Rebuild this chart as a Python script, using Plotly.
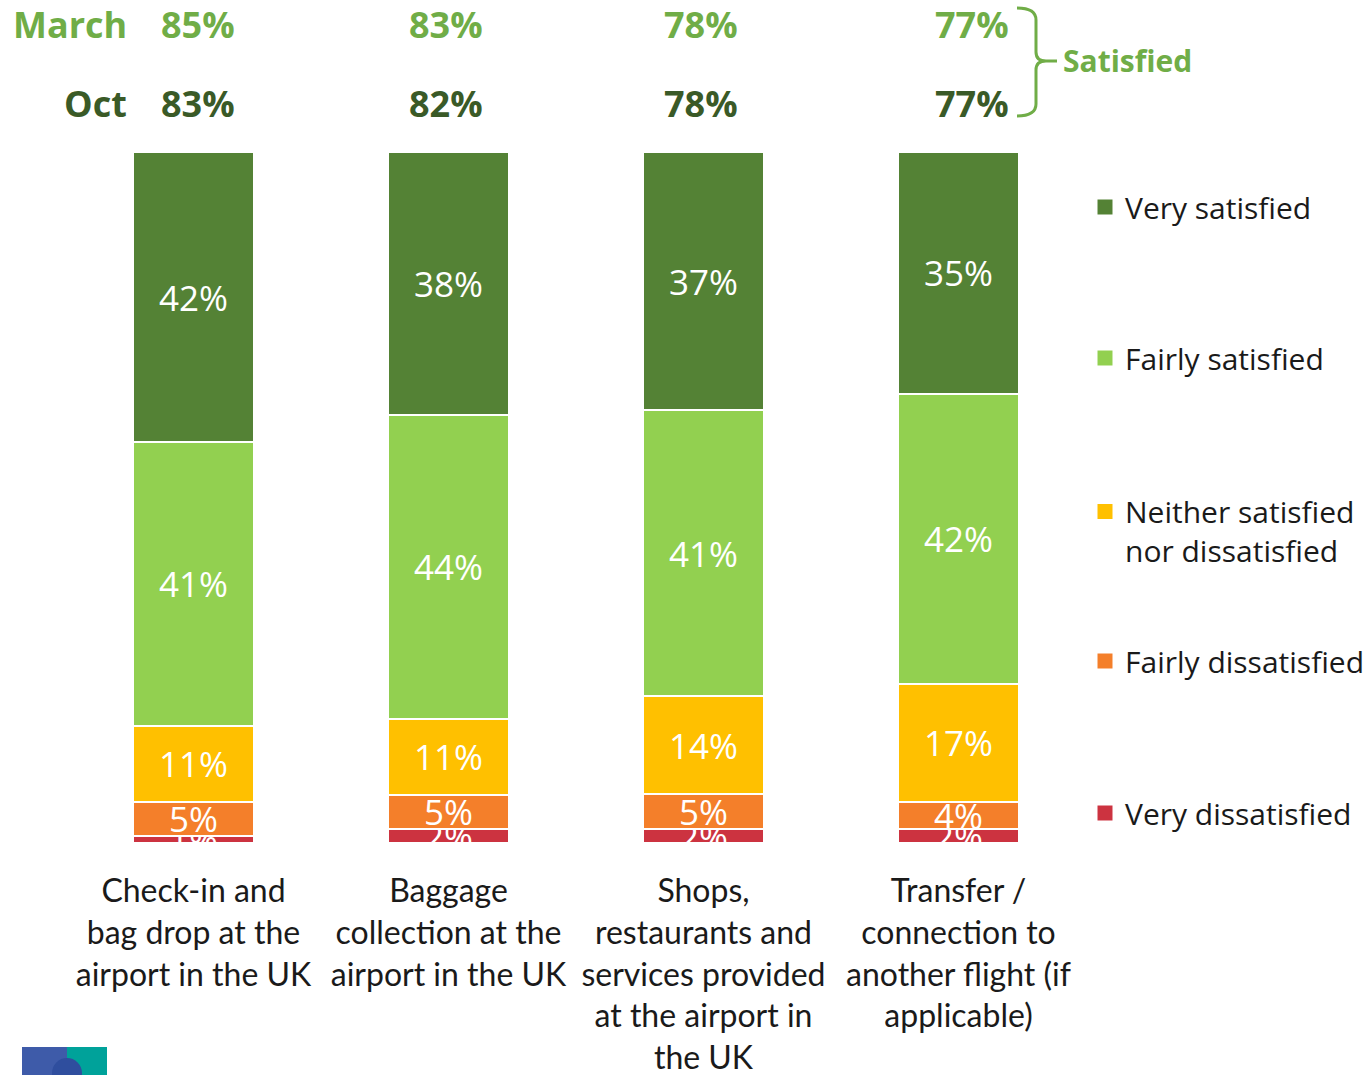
import plotly.graph_objects as go

# Survey data: satisfaction with airport services (Oct wave, %)
categories = [
    "Check-in and<br>bag drop at the<br>airport in the UK",
    "Baggage<br>collection at the<br>airport in the UK",
    "Shops,<br>restaurants and<br>services provided<br>at the airport in<br>the UK",
    "Transfer /<br>connection to<br>another flight (if<br>applicable)",
]
series_names = [
    "Very dissatisfied",
    "Fairly dissatisfied",
    "Neither satisfied<br>nor dissatisfied",
    "Fairly satisfied",
    "Very satisfied",
]
very_dissatisfied = [1, 2, 2, 2]
fairly_dissatisfied = [5, 5, 5, 4]
neither = [11, 11, 14, 17]
fairly_satisfied = [41, 44, 41, 42]
very_satisfied = [42, 38, 37, 35]

# Net satisfied totals for each wave
satisfied_march = [85, 83, 78, 77]
satisfied_oct = [83, 82, 78, 77]

colors = ["#CC3340", "#F47F2A", "#FFC000", "#92D050", "#548235"]
values = [very_dissatisfied, fairly_dissatisfied, neither, fairly_satisfied, very_satisfied]

W, H = 1365, 1075
L, R, T, B = 66, 1086, 152, 843


def px_x(px):
    return (px - L) / (R - L)


def px_y(py):
    return (B - py) / (B - T)


FONT = "Open Sans"
LABEL_FONT = "Lato"
xs = list(range(len(categories)))

fig = go.Figure()
for name, vals, col in zip(series_names, values, colors):
    fig.add_trace(go.Bar(
        x=xs,
        y=vals,
        name=name,
        showlegend=False,
        marker=dict(color=col, line=dict(color="white", width=2)),
        width=0.472,
        text=[f"{v}%" for v in vals],
        textposition="inside",
        insidetextanchor="middle",
        constraintext="none",
        textfont=dict(family=FONT, size=35, color="white"),
        cliponaxis=True,
    ))

# Legend entries: square swatches, one legend box per series so each
# entry can sit at its own height
legend_centers = [813, 661, 531, 358, 207]
legend_layout = {}
for i, (name, col, cy) in enumerate(zip(series_names, colors, legend_centers)):
    key = "legend" if i == 0 else f"legend{i + 1}"
    fig.add_trace(go.Scatter(
        x=[None], y=[None], mode="markers", name=name,
        marker=dict(symbol="square", size=15, color=col),
        legend=key, showlegend=True, hoverinfo="skip",
    ))
    legend_layout[key] = dict(
        x=px_x(1085), xanchor="left", y=px_y(cy), yanchor="middle",
        font=dict(family=FONT, size=30, color="#1a1a1a"),
        bgcolor="rgba(0,0,0,0)", valign="top",
        itemclick=False, itemdoubleclick=False,
    )

fig.update_layout(
    width=W, height=H,
    margin=dict(l=L, r=W - R, t=T, b=H - B, autoexpand=False),
    barmode="stack", barnorm="percent",
    plot_bgcolor="white", paper_bgcolor="white",
    showlegend=True,
    xaxis=dict(
        range=[-0.5, 3.5], tickvals=xs, ticktext=categories,
        showgrid=False, zeroline=False, showline=False,
        ticks="outside", ticklen=20, tickcolor="rgba(0,0,0,0)",
        tickfont=dict(family=LABEL_FONT, size=32, color="#1a1a1a"),
    ),
    yaxis=dict(range=[0, 100], visible=False, showgrid=False),
    **legend_layout,
)

# Header rows with net satisfied totals
light_green = "#70AD47"
dark_green = "#3A5A27"
header_font = dict(family=FONT, size=36)
col_shift = [4, -3, -2.5, 13.5]
for label, vals, row_y, col in [("March", satisfied_march, 25, light_green),
                                ("Oct", satisfied_oct, 103, dark_green)]:
    fig.add_annotation(text=f"<b>{label}</b>", xref="paper", yref="paper",
                       x=px_x(129), y=px_y(row_y), xanchor="right", yanchor="middle",
                       showarrow=False, font=dict(color=col, **header_font))
    for i, v in enumerate(vals):
        fig.add_annotation(text=f"<b>{v}%</b>", xref="x", yref="paper",
                           x=xs[i], xshift=col_shift[i], y=px_y(row_y), xanchor="center",
                           yanchor="middle", showarrow=False,
                           font=dict(color=col, **header_font))

# Curly bracket grouping the two header rows
bx = lambda p: f"{px_x(p[0]):.5f},{px_y(p[1]):.5f}"
path = (f"M {bx((1017, 8))} Q {bx((1036, 8))} {bx((1036, 20))} L {bx((1036, 52))} "
        f"Q {bx((1036, 61))} {bx((1046, 61))} L {bx((1057, 61))} "
        f"M {bx((1046, 61))} Q {bx((1036, 61))} {bx((1036, 70))} L {bx((1036, 104))} "
        f"Q {bx((1036, 116))} {bx((1017, 116))}")
fig.add_shape(type="path", path=path, xref="paper", yref="paper",
              line=dict(color=light_green, width=3))
fig.add_annotation(text="<b>Satisfied</b>", xref="paper", yref="paper",
                   x=px_x(1061), y=px_y(61), xanchor="left", yanchor="middle",
                   showarrow=False, font=dict(family=FONT, size=30, color=light_green))

# Logo corner
fig.add_shape(type="rect", xref="paper", yref="paper",
              x0=px_x(22), x1=px_x(67), y0=px_y(1047), y1=px_y(1080),
              fillcolor="#3E5BA9", line=dict(width=0), layer="above")
fig.add_shape(type="rect", xref="paper", yref="paper",
              x0=px_x(67), x1=px_x(107), y0=px_y(1047), y1=px_y(1080),
              fillcolor="#00A29A", line=dict(width=0), layer="above")
fig.add_shape(type="circle", xref="paper", yref="paper",
              x0=px_x(52), x1=px_x(82), y0=px_y(1058), y1=px_y(1088),
              fillcolor="#2F4E9E", line=dict(width=0), layer="above")

fig.write_html("out.html")
